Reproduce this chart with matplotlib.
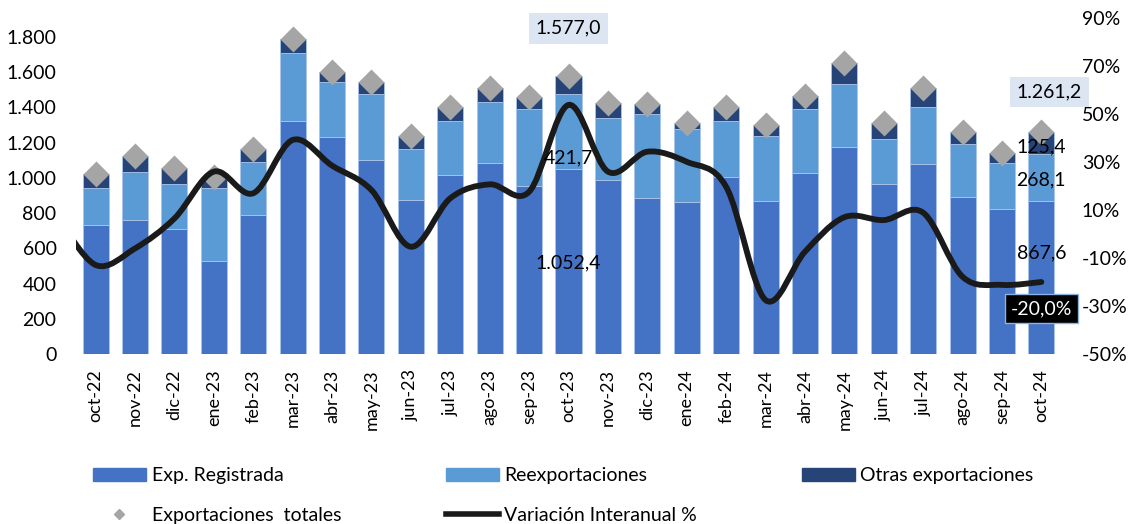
"""
Exportaciones mensuales: composición y variación interanual
"""
import matplotlib
matplotlib.use("Agg")
import matplotlib.pyplot as plt
from matplotlib.path import Path
from matplotlib.patches import PathPatch, Patch
from matplotlib.lines import Line2D
import numpy as np

plt.rcParams['font.family'] = ['Lato', 'DejaVu Sans']
plt.rcParams['axes.unicode_minus'] = False

# ---- datos (millones) ----
meses = ['oct-22', 'nov-22', 'dic-22', 'ene-23', 'feb-23', 'mar-23', 'abr-23', 'may-23',
         'jun-23', 'jul-23', 'ago-23', 'sep-23', 'oct-23', 'nov-23', 'dic-23', 'ene-24',
         'feb-24', 'mar-24', 'abr-24', 'may-24', 'jun-24', 'jul-24', 'ago-24', 'sep-24', 'oct-24']
exp_registrada = [732, 761, 710, 530, 791, 1325, 1230, 1103, 874, 1015, 1086, 956, 1052.4,
                  988, 888, 861, 1007, 867, 1030, 1175, 967, 1077, 893, 823, 867.6]
reexportaciones = [212, 274, 253, 414, 299, 386, 316, 375, 290, 308, 343, 435, 421.7,
                   354, 473, 415, 318, 371, 361, 358, 256, 324, 298, 260, 268.1]
otras_exp = [78, 89, 91, 60, 74, 76, 57, 68, 74, 81, 79, 67, 102.9,
             81, 59, 38, 79, 62, 76, 118, 91, 107, 71, 57, 125.4]
exp_totales = [1022, 1124, 1054, 1004, 1164, 1787, 1603, 1546, 1238, 1404, 1508, 1458, 1577.0,
               1423, 1420, 1314, 1404, 1300, 1467, 1651, 1314, 1508, 1262, 1140, 1261.2]
# variación interanual %, el primer valor (sep-22) sólo asoma en el borde izquierdo
var_interanual = [8, -12.9, -6.0, 6.5, 26.0, 17.0, 39.2, 28.5, 18.3, -5.3, 14.9, 20.7, 17.6,
                  53.8, 26.0, 34.3, 30.1, 19.7, -27.5, -7.4, 7.0, 5.8, 8.9, -17.8, -21.2, -20.0]

C_REG = '#4472C4'
C_REEXP = '#5B9BD5'
C_OTRAS = '#264478'
C_TOTAL = '#A5A5A5'
C_LINEA = '#1A1A1A'


def fmt_es(v, dec=1):
    s = f"{v:,.{dec}f}"
    return s.replace(',', 'X').replace('.', ',').replace('X', '.')


def curva_suave(xs, ys, t=1/6):
    """curva tipo Excel (Catmull-Rom como Bezier)"""
    n = len(xs)
    verts = [(xs[0], ys[0])]
    codes = [Path.MOVETO]
    for i in range(n - 1):
        xa, ya = (xs[i - 1], ys[i - 1]) if i > 0 else (xs[i], ys[i])
        xb, yb = (xs[i + 2], ys[i + 2]) if i + 2 < n else (xs[i + 1], ys[i + 1])
        c1 = (xs[i] + (xs[i + 1] - xa) * t, ys[i] + (ys[i + 1] - ya) * t)
        c2 = (xs[i + 1] - (xb - xs[i]) * t, ys[i + 1] - (yb - ys[i]) * t)
        verts += [c1, c2, (xs[i + 1], ys[i + 1])]
        codes += [Path.CURVE4] * 3
    return Path(verts, codes)


x = np.arange(len(meses))
reg = np.array(exp_registrada)
reex = np.array(reexportaciones)
otr = np.array(otras_exp)

fig = plt.figure(figsize=(11.37, 5.24), dpi=100)
ax = fig.add_axes([0.0668, 0.3244, 0.8664, 0.6412])
ax2 = ax.twinx()

ancho = 0.66
borde = dict(edgecolor='#A9C4EB', linewidth=0.6)
ax.bar(x, reg, ancho, color=C_REG, **borde, zorder=2)
ax.bar(x, reex, ancho, bottom=reg, color=C_REEXP, **borde, zorder=2)
ax.bar(x, otr, ancho, bottom=reg + reex, color=C_OTRAS, **borde, zorder=2)
ax.plot(x, exp_totales, 'D', ms=13, color=C_TOTAL, mec='none', zorder=3)

xl = np.arange(-1, len(meses))
ax2.add_patch(PathPatch(curva_suave(xl, var_interanual), facecolor='none',
                        edgecolor=C_LINEA, lw=4.2, capstyle='round', zorder=4))

ax.set_xlim(-0.5, len(meses) - 0.5)
ax.set_ylim(0, 1908)
ax2.set_ylim(-50, 90)
ax.set_yticks(np.arange(0, 1801, 200))
ax.set_yticklabels([fmt_es(v, 0) for v in np.arange(0, 1801, 200)])
ax2.set_yticks(np.arange(-50, 91, 20))
ax2.set_yticklabels([f"{v}%" for v in np.arange(-50, 91, 20)])
ax.set_xticks(x)
ax.set_xticklabels(meses, rotation=90)

for a in (ax, ax2):
    for s in a.spines.values():
        s.set_visible(False)
ax.tick_params(axis='y', length=0, pad=14, labelsize=14)
ax.tick_params(axis='x', length=0, pad=11, labelsize=13)
ax2.tick_params(axis='y', length=0, pad=15, labelsize=14)

# etiquetas de datos
i13 = meses.index('oct-23')
iu = len(meses) - 1
kw = dict(transform=ax.transData, ha='center', va='center', fontsize=14, zorder=6)
caja = dict(boxstyle='square,pad=0.35', facecolor='#DCE6F2', edgecolor='none')
ax2.text(i13, 1850, fmt_es(exp_totales[i13]), bbox=caja, **kw)
ax2.text(i13, 1113, fmt_es(reexportaciones[i13]), **kw)
ax2.text(i13, 517, fmt_es(exp_registrada[i13]), **kw)
ax2.text(iu + 0.2, 1488, fmt_es(exp_totales[iu]), bbox=caja, **kw)
ax2.text(iu, 1175, fmt_es(otras_exp[iu]), **kw)
ax2.text(iu, 988, fmt_es(reexportaciones[iu]), **kw)
ax2.text(iu, 574, fmt_es(exp_registrada[iu]), **kw)
ax2.text(iu, var_interanual[-1] - 11, fmt_es(var_interanual[-1]) + '%', ha='center', va='center',
         fontsize=14, color='white', zorder=6,
         bbox=dict(boxstyle='square,pad=0.3', facecolor='black', edgecolor='#8DB3E2', lw=1))

# leyenda
handles = [Patch(color=C_REG), Line2D([], [], ls='none', marker='D', ms=5, color=C_TOTAL),
           Patch(color=C_REEXP), Line2D([], [], color=C_LINEA, lw=4),
           Patch(color=C_OTRAS)]
labels = ['Exp. Registrada', 'Exportaciones  totales', 'Reexportaciones',
          'Variación Interanual %', 'Otras exportaciones']
fig.legend(handles, labels, ncol=3, loc='upper left', bbox_to_anchor=(0.082, 0.108),
           frameon=False, fontsize=14, handlelength=2.7, handleheight=0.6,
           handletextpad=0.3, columnspacing=5.4, labelspacing=1.15,
           borderpad=0, borderaxespad=0)

fig.savefig('out.png', dpi=100)
